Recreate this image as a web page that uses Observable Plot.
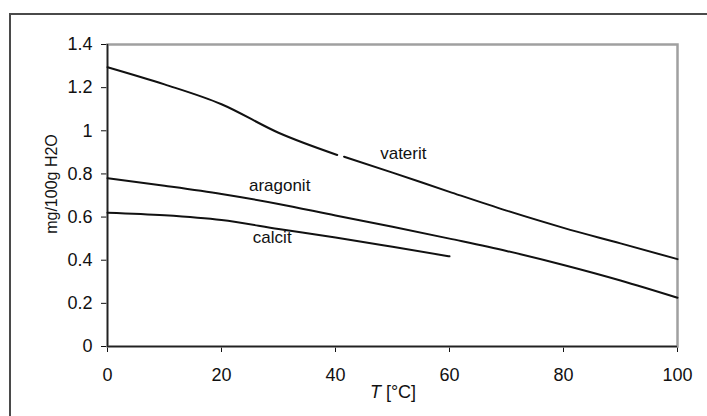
<!DOCTYPE html>
<html><head><meta charset="utf-8">
<script src="https://cdn.jsdelivr.net/npm/d3@7"></script>
<script src="https://cdn.jsdelivr.net/npm/@observablehq/plot@0.6"></script>
<style>
html,body{margin:0;padding:0;background:#fff;overflow:hidden}
#wrap{position:relative;width:707px;height:416px;overflow:hidden;background:#fff}
#border{position:absolute;left:9px;top:13px;width:800px;height:500px;border:2px solid #4a4a4a}
#chart{position:absolute;left:0;top:0}
</style></head><body>
<div id="wrap"><div id="border"></div><div id="chart"></div></div>
<script>
// Temperature (°C) and solubility (mg/100g H2O)
const vateritT = [0, 10, 20, 30, 40.3, 40.9, 41.5, 50, 60, 70, 80, 90, 100];
const vateritY = [1.295, 1.215, 1.123, 0.991, 0.888, NaN, 0.880, 0.806, 0.717, 0.630, 0.550, 0.478, 0.405];
const aragonitT = [0, 10, 20, 30, 40, 50, 60, 70, 80, 90, 100];
const aragonitY = [0.78, 0.745, 0.707, 0.661, 0.607, 0.555, 0.500, 0.443, 0.378, 0.306, 0.226];
const calcitT = [0, 10, 20, 30, 40, 50, 60];
const calcitY = [0.62, 0.608, 0.586, 0.545, 0.505, 0.462, 0.418];

const seriesNames = ["vaterit", "aragonit", "calcit"];
const labelX = [51.9, 30.2, 28.9];
const labelY = [0.895, 0.746, 0.505];

const xTicks = [0, 20, 40, 60, 80, 100];
const yTicks = [0, 0.2, 0.4, 0.6, 0.8, 1, 1.2, 1.4];
const yTickLabels = ["0", "0.2", "0.4", "0.6", "0.8", "1", "1.2", "1.4"];
const yTitle = "mg/100g H2O";
const xTitleItalic = "T";
const xTitleRest = " [°C]";

const rows = [];
vateritT.forEach((t, i) => rows.push({series: "vaterit", t, v: vateritY[i]}));
aragonitT.forEach((t, i) => rows.push({series: "aragonit", t, v: aragonitY[i]}));
calcitT.forEach((t, i) => rows.push({series: "calcit", t, v: calcitY[i]}));
const labels = seriesNames.map((s, i) => ({s, x: labelX[i], y: labelY[i]}));

const chart = Plot.plot({
  width: 707, height: 416,
  marginLeft: 107, marginRight: 30, marginTop: 44, marginBottom: 70,
  style: {fontFamily: "'Liberation Sans', Arial, sans-serif", fontSize: "18px", color: "#111", background: "transparent"},
  x: {domain: [0, 100], ticks: xTicks, tickSize: 6, tickPadding: 16, label: null},
  y: {domain: [0, 1.4], ticks: yTicks, tickFormat: d => yTickLabels[yTicks.indexOf(d)], tickSize: 6, tickPadding: 9, label: null},
  marks: [
    Plot.frame({stroke: "#a0a0a0", strokeWidth: 2.5}),
    Plot.ruleX([0], {stroke: "#222", strokeWidth: 1.5}),
    Plot.ruleY([0], {stroke: "#222", strokeWidth: 1.5}),
    Plot.line(rows, {x: "t", y: "v", z: "series", curve: "monotone-x", stroke: "#111", strokeWidth: 2}),
    Plot.text(labels, {x: "x", y: "y", text: "s", fontSize: 17, fill: "#111"})
  ]
});
document.getElementById("chart").appendChild(chart);

const svg = d3.select(chart);
svg.append("text")
  .attr("transform", "translate(57,184) rotate(-90)")
  .attr("text-anchor", "middle")
  .attr("font-size", 16)
  .attr("fill", "#111")
  .text(yTitle);
const xt = svg.append("text")
  .attr("x", 393).attr("y", 398)
  .attr("text-anchor", "middle")
  .attr("font-size", 18)
  .attr("fill", "#111");
xt.append("tspan").attr("font-style", "italic").text(xTitleItalic);
xt.append("tspan").text(xTitleRest);
</script>
</body></html>
